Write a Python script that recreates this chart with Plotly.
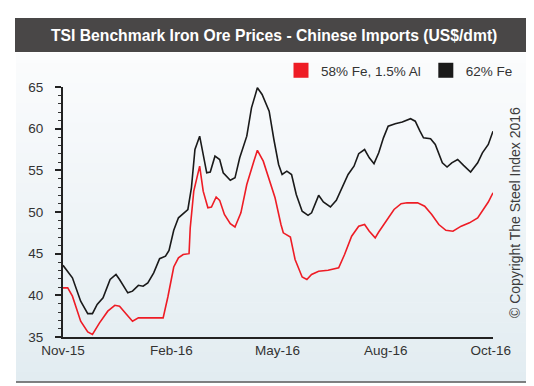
import plotly.graph_objects as go

# ---------------- data ----------------
fe62_dates = ["2015-11-01","2015-11-09","2015-11-16","2015-11-22","2015-11-26","2015-11-30",
              "2015-12-05","2015-12-11","2015-12-16","2015-12-19","2015-12-26","2015-12-30",
              "2016-01-04","2016-01-08","2016-01-12","2016-01-17","2016-01-22","2016-01-27","2016-01-30",
              "2016-02-03","2016-02-07","2016-02-11","2016-02-15","2016-02-18","2016-02-21","2016-02-25","2016-02-28",
              "2016-03-02","2016-03-05","2016-03-09","2016-03-13","2016-03-16","2016-03-22","2016-03-26","2016-03-30",
              "2016-04-05","2016-04-09","2016-04-14","2016-04-18","2016-04-24","2016-04-28",
              "2016-05-02","2016-05-05","2016-05-09","2016-05-13","2016-05-17","2016-05-22","2016-05-27","2016-05-30",
              "2016-06-05","2016-06-09","2016-06-15","2016-06-20","2016-06-26","2016-06-30",
              "2016-07-05","2016-07-09","2016-07-14","2016-07-18","2016-07-22","2016-07-26","2016-07-30",
              "2016-08-03","2016-08-09","2016-08-15","2016-08-22","2016-08-26","2016-08-30",
              "2016-09-02","2016-09-08","2016-09-12","2016-09-18","2016-09-22","2016-09-26",
              "2016-10-01","2016-10-06","2016-10-12","2016-10-18","2016-10-22","2016-10-27","2016-10-31"]
fe62_values = [43.6,42.1,39.3,37.8,37.8,38.9,
               39.7,41.9,42.5,41.9,40.3,40.5,
               41.2,41.1,41.5,42.7,44.4,44.7,45.4,
               47.8,49.3,49.8,50.3,52.9,57.5,59.1,57.1,
               54.7,54.8,56.7,56.3,54.7,53.8,54.1,56.5,
               59.1,62.5,64.9,64.1,62.1,58.7,
               55.7,54.5,54.9,54.5,52.1,50.1,49.6,49.9,
               52.0,51.2,50.6,51.4,53.3,54.5,
               55.5,57.0,57.5,56.5,55.8,57.1,58.9,
               60.3,60.6,60.8,61.2,60.9,59.7,
               58.9,58.8,58.1,55.9,55.4,55.9,
               56.3,55.6,54.8,55.9,57.1,58.1,59.7]

fe58_dates = ["2015-11-01","2015-11-05","2015-11-09","2015-11-16","2015-11-22","2015-11-26",
              "2015-12-02","2015-12-09","2015-12-15","2015-12-19","2015-12-25","2015-12-30",
              "2016-01-04","2016-01-15","2016-01-25","2016-01-29",
              "2016-02-03","2016-02-07","2016-02-11","2016-02-16","2016-02-17","2016-02-20","2016-02-25","2016-02-28",
              "2016-03-03","2016-03-06","2016-03-10","2016-03-13","2016-03-17","2016-03-22","2016-03-26","2016-03-31",
              "2016-04-05","2016-04-11","2016-04-14","2016-04-19","2016-04-24","2016-04-29",
              "2016-05-04","2016-05-06","2016-05-12","2016-05-16","2016-05-22","2016-05-26","2016-05-30",
              "2016-06-05","2016-06-13","2016-06-22","2016-06-27",
              "2016-07-03","2016-07-09","2016-07-14","2016-07-18","2016-07-23","2016-07-26",
              "2016-08-01","2016-08-08","2016-08-14","2016-08-19","2016-08-28",
              "2016-09-03","2016-09-09","2016-09-15","2016-09-21","2016-09-27",
              "2016-10-04","2016-10-11","2016-10-18","2016-10-22","2016-10-27","2016-10-31"]
fe58_values = [40.9,40.9,39.9,36.9,35.6,35.3,
               36.7,38.1,38.8,38.7,37.7,36.9,
               37.3,37.3,37.3,39.8,
               43.4,44.5,44.9,45.0,48.1,52.5,55.5,52.5,
               50.5,50.6,51.8,51.4,49.7,48.6,48.2,49.9,
               53.3,56.1,57.4,56.1,53.9,51.7,
               48.5,47.5,47.0,44.3,42.2,41.9,42.5,
               42.9,43.0,43.3,44.9,
               47.1,48.3,48.5,47.7,46.9,47.6,
               48.9,50.3,51.0,51.1,51.1,
               50.7,49.7,48.5,47.8,47.7,
               48.3,48.7,49.3,50.2,51.2,52.3]

x_tick_vals = ["2015-11-01", "2016-02-01", "2016-05-01", "2016-08-01", "2016-10-29"]
x_tick_text = ["Nov-15", "Feb-16", "May-16", "Aug-16", "Oct-16"]
y_tick_vals = [35, 40, 45, 50, 55, 60, 65]

series_names = ["58% Fe, 1.5% Al", "62% Fe"]
series_colors = ["#ee1c25", "#1a1a1a"]

title_text = "TSI Benchmark Iron Ore Prices - Chinese Imports (US$/dmt)"
copyright_text = "© Copyright The Steel Index 2016"

# ---------------- layout geometry ----------------
W, H = 534, 386
ML, MR, MT, MB = 55, 49, 79, 57
PW, PH = W - ML - MR, H - MT - MB
FONT = "Liberation Sans, Arial, Helvetica, sans-serif"


def px(xp):
    return (xp - ML) / PW


def py(yp):
    return (H - MB - yp) / PH


fig = go.Figure()

fig.add_trace(go.Scatter(x=fe58_dates, y=fe58_values, mode="lines", name=series_names[0],
                         line=dict(color=series_colors[0], width=1.6), showlegend=False))
fig.add_trace(go.Scatter(x=fe62_dates, y=fe62_values, mode="lines", name=series_names[1],
                         line=dict(color=series_colors[1], width=1.6), showlegend=False))
# legend swatches (squares)
for nm, col in zip(series_names, series_colors):
    fig.add_trace(go.Scatter(x=[None], y=[None], mode="markers", name=nm,
                             marker=dict(symbol="square", size=15, color=col, line=dict(width=0))))

shapes = []
# gradient panel background (stacked bands)
top_c = (251, 252, 253)
bot_c = (226, 236, 241)
y0p, y1p = 45, 374
nb = 33
for i in range(nb):
    t = (i + 0.5) / nb
    c = tuple(round(top_c[k] + (bot_c[k] - top_c[k]) * t) for k in range(3))
    ya = y0p + (y1p - y0p) * i / nb
    yb = y0p + (y1p - y0p) * (i + 1) / nb
    shapes.append(dict(type="rect", xref="paper", yref="paper", layer="below",
                       x0=px(8), x1=px(523), y0=py(yb + 0.5), y1=py(ya),
                       fillcolor="rgb(%d,%d,%d)" % c, line=dict(width=0)))
# title bar
shapes.append(dict(type="rect", xref="paper", yref="paper", layer="below",
                   x0=px(7), x1=px(523), y0=py(44), y1=py(10),
                   fillcolor="#494747", line=dict(width=0)))
# bottom border of panel
shapes.append(dict(type="line", xref="paper", yref="paper", layer="below",
                   x0=px(8), x1=px(523), y0=py(374), y1=py(374),
                   line=dict(color="#5a5a5a", width=1.5)))

annotations = [
    dict(text="<b>" + title_text + "</b>", xref="paper", yref="paper",
         x=px(266), y=py(27), xanchor="center", yanchor="middle", showarrow=False,
         font=dict(family=FONT, size=15.7, color="white")),
    dict(text=copyright_text, xref="paper", yref="paper", textangle=-90,
         x=px(507), y=py(205), xanchor="center", yanchor="middle", showarrow=False,
         font=dict(family=FONT, size=14, color="#3c3c3c")),
]

fig.update_layout(
    width=W, height=H,
    margin=dict(l=ML, r=MR, t=MT, b=MB, pad=0, autoexpand=False),
    paper_bgcolor="white",
    plot_bgcolor="rgba(0,0,0,0)",
    font=dict(family=FONT, size=13, color="#333333"),
    shapes=shapes,
    annotations=annotations,
    showlegend=True,
    legend=dict(orientation="h", xref="container", yref="container",
                x=273 / W, y=1 - 62.5 / H, xanchor="left", yanchor="middle",
                bgcolor="rgba(0,0,0,0)", borderwidth=0, itemsizing="trace",
                font=dict(family=FONT, size=13.5, color="#333333"),
                itemclick=False, itemdoubleclick=False),
    xaxis=dict(range=["2015-11-01", "2016-10-31"], type="date",
               tickmode="array", tickvals=x_tick_vals, ticktext=x_tick_text,
               showgrid=False, zeroline=False, showline=True, linecolor="#222222", linewidth=2,
               ticks="", ticklabelstandoff=0,
               tickfont=dict(family=FONT, size=13.5, color="#333333")),
    yaxis=dict(range=[35, 65], tickmode="array", tickvals=y_tick_vals,
               showgrid=False, zeroline=False, showline=True, linecolor="#222222", linewidth=2,
               ticks="outside", ticklen=6, tickwidth=1.5, tickcolor="#222222",
               ticklabelstandoff=9,
               minor=dict(dtick=1, ticks="outside", ticklen=3, tickwidth=1, tickcolor="#333333", showgrid=False),
               tickfont=dict(family=FONT, size=13.5, color="#333333")),
)

fig.write_html("out.html")
